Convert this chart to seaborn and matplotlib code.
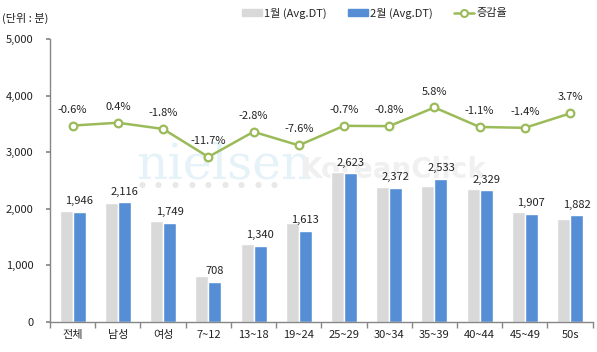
"""Monthly average duration time by demographic, Jan vs Feb with change rate"""

import matplotlib.pyplot as plt
import numpy as np
import pandas as pd
import seaborn as sns
from matplotlib.lines import Line2D
from matplotlib.patches import Patch
from matplotlib.ticker import FixedLocator, FuncFormatter

categories = ['전체', '남성', '여성', '7~12', '13~18', '19~24',
              '25~29', '30~34', '35~39', '40~44', '45~49', '50s']
jan = [1958, 2108, 1781, 802, 1379, 1746, 2641, 2391, 2394, 2355, 1934, 1815]
feb = [1946, 2116, 1749, 708, 1340, 1613, 2623, 2372, 2533, 2329, 1907, 1882]
rate = [-0.6, 0.4, -1.8, -11.7, -2.8, -7.6, -0.7, -0.8, 5.8, -1.1, -1.4, 3.7]
series = ['1월 (Avg.DT)', '2월 (Avg.DT)', '증감율']

GRAY = '#D9D9D9'
BLUE = '#558ED5'
GREEN = '#9BBB59'
AXIS = '#868686'

sns.set_theme(style='white')
plt.rcParams['font.family'] = ['Noto Sans CJK KR', 'DejaVu Sans']

df = pd.DataFrame({
    'category': categories * 2,
    'value': jan + feb,
    'month': [series[0]] * len(jan) + [series[1]] * len(feb),
})

fig = plt.figure(figsize=(5.97, 3.52), dpi=100)
ax = fig.add_axes([0.0838, 0.086, 0.909, 0.803])

sns.barplot(data=df, x='category', y='value', hue='month', order=categories,
            palette=[GRAY, BLUE], width=0.575, saturation=1, legend=False, ax=ax)
ax.bar_label(ax.containers[1], labels=[f'{v:,}' for v in feb], padding=4,
             fontsize=8, color='#222222')

ax.set_ylim(0, 5000)
ax.set_xlim(-0.5, len(categories) - 0.5)
ax.set_xlabel('')
ax.set_ylabel('')
ax.yaxis.set_major_formatter(FuncFormatter(lambda v, p: f'{int(v):,}'))
ax.tick_params(axis='y', left=True, length=3, pad=9, color=AXIS,
               labelsize=8, labelcolor='#222222')
ax.tick_params(axis='x', which='major', length=0, pad=6, labelsize=8,
               labelcolor='#222222')
ax.xaxis.set_minor_locator(FixedLocator(np.arange(-0.5, len(categories), 1)))
ax.tick_params(axis='x', which='minor', bottom=True, length=4, color=AXIS)
for side in ['top', 'right']:
    ax.spines[side].set_visible(False)
for side in ['left', 'bottom']:
    ax.spines[side].set_color(AXIS)
    ax.spines[side].set_linewidth(1)

# faint watermark behind the bars
ax.text(0.229, 0.494, 'nielsen', transform=fig.transFigure, fontsize=35,
        family='DejaVu Serif', color='#E5F2F8', zorder=0.5)
ax.text(0.503, 0.494, 'KoreanClick', transform=fig.transFigure, fontsize=20,
        family='DejaVu Sans', weight='bold', color='#F0F0F0', zorder=0.5)
for k in range(9):
    ax.text(0.238 + k * 0.0277, 0.472, '●', transform=fig.transFigure,
            fontsize=5, color='#E8E8E8', ha='center', va='center', zorder=0.5)

ax2 = ax.twinx()
sns.pointplot(x=categories, y=rate, ax=ax2, color=GREEN, markers='o',
              errorbar=None, linewidth=1.8, markersize=5.5,
              markeredgewidth=1.6, markerfacecolor='white')
for line in ax2.lines:
    line.set_markerfacecolor('white')
ax2.set_ylim(-70, 30)
ax2.set_xlim(-0.5, len(categories) - 0.5)
ax2.axis('off')
for i, r in enumerate(rate):
    ax2.annotate(f'{r:.1f}%', (i, r), xytext=(0, 11.5), textcoords='offset points',
                 ha='center', va='center', fontsize=8, color='#222222')

fig.text(0.004, 1 - 18 / 352, '(단위 : 분)', fontsize=8, va='center', color='#222222')

handles = [
    Patch(color=GRAY),
    Patch(color=BLUE),
    Line2D([], [], color=GREEN, lw=1.8, marker='o', ms=5, mew=1.5,
           markerfacecolor='white'),
]
fig.legend(handles, series, loc='center left', bbox_to_anchor=(0.405, 0.963),
           ncol=3, frameon=False, fontsize=8, handlelength=1.8, handletextpad=0.2,
           columnspacing=1.9, borderpad=0, borderaxespad=0)

fig.savefig('out.png', dpi=100)
